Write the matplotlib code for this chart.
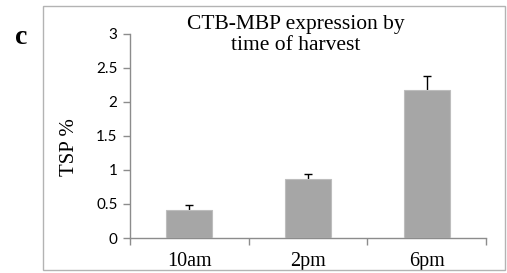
import numpy as np
import matplotlib.pyplot as plt
from matplotlib.patches import Rectangle

# data
times = ["10am", "2pm", "6pm"]
tsp_mean = [0.41, 0.87, 2.17]
tsp_err = [0.07, 0.07, 0.20]

yticks = [0, 0.5, 1, 1.5, 2, 2.5, 3]
ytick_labels = ["0", "0.5", "1", "1.5", "2", "2.5", "3"]

fig = plt.figure(figsize=(5.07, 2.73), dpi=100)
ax = fig.add_axes([130/507, 35/273, 356/507, 204.5/273])

x = np.arange(len(times))
top = np.array(tsp_mean) + np.array(tsp_err)
ax.bar(x, tsp_mean, width=0.39, color="#a6a6a6", edgecolor="#bdbdbd", linewidth=0.8, zorder=3)
# upper error bars only (T shape)
ax.vlines(x, tsp_mean, top, color="black", linewidth=1, zorder=2)
ax.plot(x, top, linestyle="none", marker="_", markersize=6, markeredgewidth=1, color="black", zorder=2)

ax.set_xlim(-0.5, 2.5)
ax.set_ylim(0, 3)
ax.set_yticks(yticks)
ax.set_yticklabels(ytick_labels, family="Lato", fontsize=11)
ax.set_xticks(x)
ax.set_xticklabels(times, family="Liberation Serif", fontsize=14.5)
ax.set_xticks([-0.5, 0.5, 1.5, 2.5], minor=True)
ax.tick_params(axis="x", which="major", length=0, pad=10)
ax.tick_params(axis="x", which="minor", length=5, color="#8c8c8c", width=1)
ax.tick_params(axis="y", length=5, color="#8c8c8c", width=1, pad=4)

for side in ["top", "right"]:
    ax.spines[side].set_visible(False)
for side in ["left", "bottom"]:
    ax.spines[side].set_color("#8c8c8c")
    ax.spines[side].set_linewidth(1)

fig.text(70/507, 1 - 147/273, "TSP %", rotation=90, ha="center", va="center",
         family="Liberation Serif", fontsize=15)
fig.text(296/507, 1 - 15/273, "CTB-MBP expression by\ntime of harvest", ha="center", va="top",
         family="Liberation Serif", fontsize=15.5, linespacing=1.12)
fig.text(21/507, 1 - 37/273, "c", ha="center", va="center",
         family="Liberation Serif", fontweight="bold", fontsize=20)

# outer panel frame
fig.add_artist(Rectangle((43/507, 1 - 270/273), 462/507, 264/273, transform=fig.transFigure,
                         fill=False, edgecolor="#b3b3b3", linewidth=1))

fig.savefig("out.png", dpi=100)
